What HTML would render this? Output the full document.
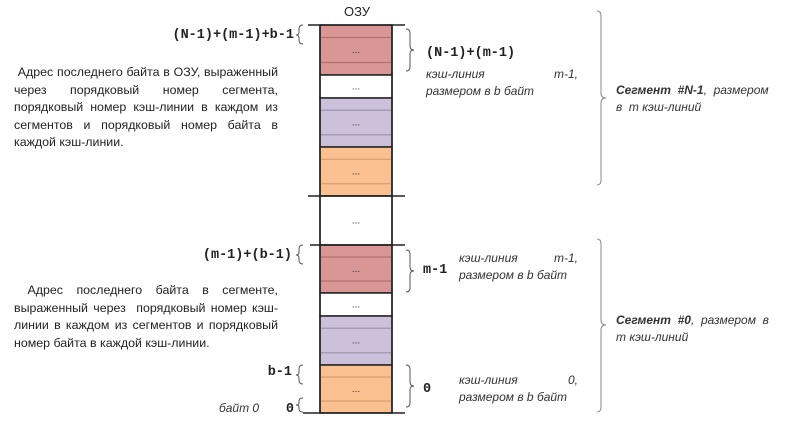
<!DOCTYPE html>
<html><head><meta charset="utf-8">
<style>
html,body{margin:0;padding:0;background:#fff;width:800px;height:437px;overflow:hidden;position:relative}
.t{position:absolute;font-family:"Liberation Sans","DejaVu Sans",sans-serif;font-size:12.4px;line-height:17.5px;color:#222;text-align:justify;text-align-last:left;width:264px}
svg{position:absolute;left:0;top:0}
.m{font-family:"Liberation Mono",monospace;font-weight:bold;font-size:13.5px;fill:#222}
.i{font-family:"Liberation Sans",sans-serif;font-style:italic;font-size:12px;fill:#333}
.d{font-family:"Liberation Sans",sans-serif;font-size:10px;fill:#333;text-anchor:middle}
</style></head><body>
<div class="t" style="left:14px;top:64px">&nbsp;Адрес последнего байта в ОЗУ, выраженный через порядковый номер сегмента, порядковый номер кэш-линии в каждом из сегментов и порядковый номер байта в каждой кэш-линии.</div>
<div class="t" style="left:14px;top:282px">&nbsp;Адрес последнего байта в сегменте, выраженный через &nbsp;порядковый номер кэш-линии в каждом из сегментов и порядковый номер байта в каждой кэш-линии.</div>
<svg width="800" height="437">
<text x="357" y="16" font-family="Liberation Sans,sans-serif" font-size="13" text-anchor="middle" fill="#222">ОЗУ</text>
<g id="blocks"></g>
<g stroke="#222" stroke-width="1.5">
<line x1="308" y1="25" x2="405" y2="25"/>
<line x1="308" y1="196" x2="405" y2="196"/>
<line x1="310" y1="245" x2="405" y2="245"/>
<line x1="303" y1="413" x2="405" y2="413"/>
<line x1="320" y1="25" x2="320" y2="413"/>
<line x1="392" y1="25" x2="392" y2="413"/>
</g>
<g fill="none" stroke="#555" stroke-width="1">
<path d="M303,25 q-4,0 -4,4 v3 q0,3 -3,3 q3,0 3,3 v2 q0,4 4,4"/>
<path d="M303,245 q-4,0 -4,4 v3 q0,3 -3,3 q3,0 3,3 v2 q0,4 4,4"/>
<path d="M303,365 q-4,0 -4,4 v3 q0,3 -3,3 q3,0 3,3 v2 q0,4 4,4"/>
<path d="M303,398 q-4,0 -4,3 v2 q0,2 -3,2 q3,0 3,2 v2 q0,3 4,3"/>
<path d="M406,29 q4,0 4,4 v13 q0,4 4,4 q-4,0 -4,4 v13 q0,4 -4,4"/>
<path d="M406,250 q4,0 4,4 v13 q0,4 4,4 q-4,0 -4,4 v13 q0,4 -4,4"/>
<path d="M406,365 q4,0 4,4 v13 q0,4 4,4 q-4,0 -4,4 v13 q0,4 -4,4"/>
<path d="M597,11 q4,0 4,5 v77 q0,5 5,5 q-5,0 -5,5 v77 q0,5 -4,5" stroke="#888"/>
<path d="M597,239 q4,0 4,5 v76 q0,5 5,5 q-5,0 -5,5 v77 q0,5 -4,5" stroke="#888"/>
</g>
<text class="m" x="294" y="38" text-anchor="end">(N-1)+(m-1)+b-1</text>
<text class="m" x="292" y="258" text-anchor="end">(m-1)+(b-1)</text>
<text class="m" x="292" y="375" text-anchor="end">b-1</text>
<text class="m" x="294" y="412" text-anchor="end">0</text>
<text class="i" x="219" y="412">байт 0</text>
<text class="m" x="426" y="56">(N-1)+(m-1)</text>
<text class="m" x="423" y="273">m-1</text>
<text class="m" x="423" y="392">0</text>
<text class="i" x="426" y="78">кэш-линия</text>
<text class="i" x="578" y="78" text-anchor="end">m-1,</text>
<text class="i" x="426" y="95">размером в b байт</text>
<text class="i" x="459" y="262">кэш-линия</text>
<text class="i" x="578" y="262" text-anchor="end">m-1,</text>
<text class="i" x="459" y="279">размером в b байт</text>
<text class="i" x="459" y="384">кэш-линия</text>
<text class="i" x="578" y="384" text-anchor="end">0,</text>
<text class="i" x="459" y="401">размером в b байт</text>
<text class="i" x="616" y="94"><tspan font-weight="bold">Сегмент &#160;#N-1</tspan>, &#160;размером</text>
<text class="i" x="616" y="111">в &#160;m кэш-линий</text>
<text class="i" x="616" y="324"><tspan font-weight="bold">Сегмент &#160;#0</tspan>, &#160;размером &#160;в</text>
<text class="i" x="616" y="341">m кэш-линий</text>
</svg>
<script>
const blockTops=[25,75,98,147,196,245,293,316,365];
const blockBottoms=[75,98,147,196,245,293,316,365,413];
const blockKinds=["red","white","purple","orange","white","red","white","purple","orange"];
const fills={red:"#d99694",white:"#ffffff",purple:"#ccc0da",orange:"#fac090"};
const lines={red:"#b07070",purple:"#9f94b0",orange:"#d8a070"};
const g=document.getElementById('blocks');
const NS="http://www.w3.org/2000/svg";
blockTops.forEach((t,i)=>{
 const b=blockBottoms[i],k=blockKinds[i];
 const r=document.createElementNS(NS,'rect');
 r.setAttribute('x',320);r.setAttribute('y',t);r.setAttribute('width',72);r.setAttribute('height',b-t);
 r.setAttribute('fill',fills[k]);r.setAttribute('stroke','#222');r.setAttribute('stroke-width','1.5');
 
 
 g.appendChild(r);
 if(k!=="white"){
  [0.25,0.75].forEach(f=>{
   const l=document.createElementNS(NS,'line');
   const y=t+(b-t)*f;
   l.setAttribute('x1',321);l.setAttribute('x2',391);l.setAttribute('y1',y);l.setAttribute('y2',y);
   l.setAttribute('stroke',lines[k]);l.setAttribute('stroke-width','1.2');
   
   
   g.appendChild(l);
  });
 }
 const tx=document.createElementNS(NS,'text');
 tx.setAttribute('x',356);tx.setAttribute('y',(t+b)/2+3);tx.setAttribute('class','d');tx.textContent='...';
 
 
 g.appendChild(tx);
});
</script>
</body></html>
